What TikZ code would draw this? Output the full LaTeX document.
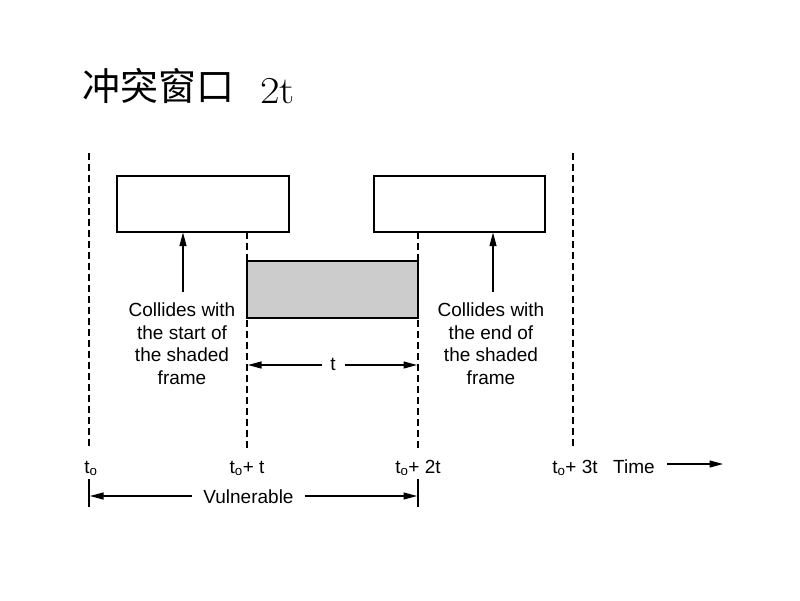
\documentclass[tikz,border=0pt]{standalone}
\usepackage{fontspec}
\setmainfont{Liberation Sans}
\newfontfamily\cjk{Noto Sans CJK SC}
\newfontfamily\lmfont{Latin Modern Roman}
\usetikzlibrary{arrows.meta}
\begin{document}
\begin{tikzpicture}[x=1pt,y=-1pt,
  lw/.style={line width=1.1pt},
  frm/.style={draw,line width=1.1pt,inner sep=0,minimum height=56pt},
  dsh/.style={line width=1.1pt,dash pattern=on 7pt off 4pt},
  arr/.style={line width=1.1pt,-{Triangle[length=13.5pt,width=7pt]}},
  lab/.style={inner sep=0,font=\fontsize{19}{22.5}\selectfont},
  col/.style={lab,align=center,anchor=north}]
\useasboundingbox (0,0) rectangle (800,600);
% title
\node[anchor=base west,inner sep=0] (title) at (82,100) {\cjk\fontsize{38}{38}\selectfont 冲突窗口};
\node[anchor=base west,inner sep=0] (title2) at (260,103) {\lmfont\fontsize{38}{38}\selectfont\scalebox{1.12}[1]{2t}};
% frames
\node[frm,minimum width=172pt] (f1) at (203,204) {};
\node[frm,minimum width=171pt] (f2) at (459.5,204) {};
\node[frm,fill=black!20,minimum width=171pt,minimum height=57pt] (sh) at (332.5,289.5) {};
% dashed time lines
\coordinate (a0) at (89,153);   \coordinate (b0) at (89,449);
\coordinate (a1) at (247,232);  \coordinate (b1) at (247,449);
\coordinate (a2) at (418,232);  \coordinate (b2) at (418,449);
\coordinate (a3) at (573,153);  \coordinate (b3) at (573,449);
\draw[dsh] (a0) -- (b0);
\draw[dsh] (a1) -- (b1);
\draw[dsh] (a2) -- (b2);
\draw[dsh] (a3) -- (b3);
% collide texts and arrows
\node[col] (lc) at (182,303) {Collides with\\the start of\\the shaded\\frame};
\node[col] (rc) at (491,303) {Collides with\\the end of\\the shaded\\frame};
\draw[arr] ([xshift=1pt,yshift=11pt]lc.north) -- ([xshift=1pt]lc.north |- f1.south);
\draw[arr] ([xshift=2pt,yshift=11pt]rc.north) -- ([xshift=2pt]rc.north |- f2.south);
% t dimension
\node[lab,anchor=base] (tl) at (333,370) {t};
\coordinate (tlft) at (247,365);
\coordinate (trgt) at (418,365);
\draw[arr] ([xshift=-8pt]tl.west |- tlft) -- ([xshift=1pt]tlft);
\draw[arr] ([xshift=9pt]tl.east |- trgt) -- ([xshift=-1pt]trgt);
% time labels
\node[lab,anchor=base] (l0) at (91,473) {t\textsubscript{o}};
\node[lab,anchor=base] (l1) at (247,473) {t\textsubscript{o}+ t};
\node[lab,anchor=base] (l2) at (418,473) {t\textsubscript{o}+ 2t};
\node[lab,anchor=base] (l3) at (575,473) {t\textsubscript{o}+ 3t};
\node[lab,anchor=base west] (time) at (613,473) {Time};
\coordinate (tend) at (723,464);
\draw[arr] ([xshift=12pt]time.east |- tend) -- (tend);
% vulnerable
\coordinate (v0t) at (89,479); \coordinate (v0b) at (89,507);
\coordinate (v1t) at (418,479); \coordinate (v1b) at (418,507);
\draw[lw] (v0t) -- (v0b);
\draw[lw] (v1t) -- (v1b);
\node[lab,anchor=base] (vul) at (248.5,503) {Vulnerable};
\coordinate (vl) at (89,496);
\coordinate (vr) at (418,496);
\draw[arr] ([xshift=-11pt]vul.west |- vl) -- ([xshift=1pt]vl);
\draw[arr] ([xshift=11pt]vul.east |- vr) -- ([xshift=-1pt]vr);
\end{tikzpicture}
\end{document}
